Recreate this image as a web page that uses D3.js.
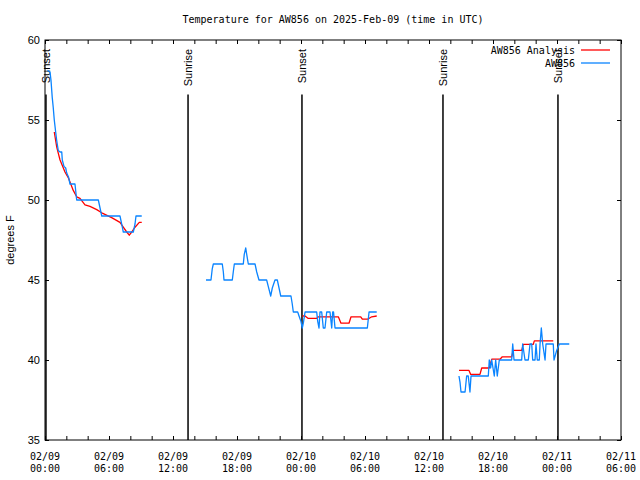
<!DOCTYPE html>
<html><head><meta charset="utf-8">
<script src="https://cdn.jsdelivr.net/npm/d3@7"></script>
<style>body{margin:0;background:#fff}svg{display:block}</style>
</head><body>
<script>
// ---- data (hours since 2025-02-09 00:00 UTC) ----
const obsHours = [
  [0.23,0.47,0.56,0.68,0.77,0.87,1.00,1.09,1.24,1.41,1.57,1.62,1.78,1.94,2.03,2.22,2.34,2.81,2.97,5.00,5.16,5.32,7.03,7.25,7.34,8.28,8.44,8.53,9.07],
  [15.09,15.56,15.68,15.78,16.62,16.72,16.78,17.56,17.65,17.75,18.59,18.68,18.82,18.91,19.06,19.69,19.85,20.06,20.78,20.93,21.16,21.31,21.56,21.78,21.94,22.10,23.06,23.18,23.28,23.69,23.84,24.00,24.12,24.22,24.38,25.47,25.57,25.69,25.78,25.94,26.09,26.25,26.41,26.72,26.88,26.97,27.05,27.19,30.22,30.38,31.10],
  [38.81,38.91,39.00,39.38,39.53,39.68,39.84,39.94,41.56,41.65,41.78,41.88,42.00,42.12,42.25,42.40,42.59,43.75,43.85,43.97,44.69,44.78,45.00,45.31,45.47,45.63,45.72,45.94,46.03,46.15,46.34,46.41,46.53,46.66,46.88,46.97,47.65,47.72,47.97,48.22,49.15]
];
const obsTemps = [
  [58.1,58.0,57.5,56.4,55.8,55.0,54.25,53.75,53.1,53.0,53.0,52.5,52.1,52.0,51.7,51.4,51.0,51.0,50.0,50.0,49.5,49.0,49.0,48.3,48.0,48.0,48.5,49.0,49.0],
  [45,45,45.7,46,46,45.5,45,45,45.5,46,46,46.6,47,46.6,46,46,45.5,45,45,44.6,44,44.5,45,45,44.5,44,44,43.5,43,43,42.7,42.4,42,42.3,43,43,42.4,42,43,43,42,42,43,43,42,43,43,42,42,43,43],
  [39,38.6,38,38,39,39,38,39,39,40,39.5,40,39.5,39,40,39,40,40,41,40,40,41,40,40,41,41,40,40,41,40,40,41,42,41,40,41,41,40,40.6,41,41]
];
const anaHours = [
  [0.87,1.10,1.41,1.72,1.87,2.18,2.65,2.97,3.28,3.75,4.22,4.85,5.32,6.25,7.03,7.34,7.66,7.90,8.13,8.44,8.84,9.07],
  [24.12,24.38,24.68,25.47,25.62,27.50,27.75,28.50,28.69,29.60,29.75,30.25,30.63,31.10],
  [38.81,39.75,39.91,40.78,40.94,41.65,41.88,42.66,42.87,43.75,43.90,44.69,44.84,45.78,45.87,47.65]
];
const anaTemps = [
  [54.25,53.3,52.5,52.0,51.75,51.4,50.6,50.2,50.1,49.7,49.6,49.4,49.2,48.9,48.6,48.3,48.0,47.8,48.0,48.3,48.6,48.6],
  [42.75,42.75,42.6,42.6,42.7,42.7,42.3,42.3,42.7,42.7,42.55,42.55,42.7,42.75],
  [39.35,39.35,39.1,39.1,39.5,39.5,40.05,40.05,40.2,40.2,40.6,40.6,40.98,40.98,41.2,41.2]
];
const sunHours = [0.09,13.41,24.09,37.31,48.09];
const sunLabels = ["Sunset","Sunrise","Sunset","Sunrise","Sunset"];
const xTickHours = [0,6,12,18,24,30,36,42,48,54];
const xTickDates = ["02/09","02/09","02/09","02/09","02/10","02/10","02/10","02/10","02/11","02/11"];
const xTickTimes = ["00:00","06:00","12:00","18:00","00:00","06:00","12:00","18:00","00:00","06:00"];
const yTicks = [35,40,45,50,55,60];
const seriesNames = ["AW856 Analysis","AW856"];
const seriesColors = ["#ff0000","#0a84ff"];
const title = "Temperature for AW856 on 2025-Feb-09 (time in UTC)";

// ---- layout ----
const W=640,H=480, L=45,R=621,T=40,B=440;
const svg=d3.select("body").append("svg").attr("width",W).attr("height",H);
const x=d3.scaleLinear().domain([0,54]).range([L,R]);
const y=d3.scaleLinear().domain([35,60]).range([B,T]);
const mono="'DejaVu Sans Mono', monospace";
const sans="'Liberation Sans', Arial, sans-serif";

// title
svg.append("text").attr("x",(L+R)/2).attr("y",23).attr("text-anchor","middle")
  .style("font-family",mono).style("font-size","10px").text(title);

// axes with inward ticks
const minorX=d3.range(0,55,2);
svg.append("g").attr("transform",`translate(0,${B})`)
  .call(d3.axisTop(x).tickValues(minorX).tickSize(4).tickFormat(""))
  .call(g=>g.select(".domain").remove());
svg.append("g").attr("transform",`translate(0,${T})`)
  .call(d3.axisBottom(x).tickValues(minorX).tickSize(4).tickFormat(""))
  .call(g=>g.select(".domain").remove());
svg.append("g").attr("transform",`translate(${L},0)`)
  .call(d3.axisRight(y).tickValues(yTicks).tickSize(4).tickFormat(""))
  .call(g=>g.select(".domain").remove());
svg.append("g").attr("transform",`translate(${R},0)`)
  .call(d3.axisLeft(y).tickValues(yTicks).tickSize(4).tickFormat(""))
  .call(g=>g.select(".domain").remove());
svg.selectAll(".tick line").attr("stroke","#000");

// x labels
const xl=svg.append("g").style("font-family",mono).style("font-size","10px").attr("text-anchor","middle");
xTickHours.forEach((h,i)=>{
  xl.append("text").attr("x",x(h)).attr("y",460).text(xTickDates[i]);
  xl.append("text").attr("x",x(h)).attr("y",472).text(xTickTimes[i]);
});
// y labels
const yl=svg.append("g").style("font-family",sans).style("font-size","11px").attr("text-anchor","end");
yTicks.forEach(v=>yl.append("text").attr("x",40).attr("y",y(v)+4).text(v));
svg.append("text").attr("transform",`translate(14,${(T+B)/2}) rotate(-90)`).attr("text-anchor","middle")
  .style("font-family",sans).style("font-size","11px").text("degrees F");

// sun lines
sunHours.forEach((h,i)=>{
  svg.append("line").attr("x1",x(h)).attr("x2",x(h)).attr("y1",y(35)).attr("y2",y(56.6))
    .attr("stroke","#000").attr("stroke-width",1.5);
  svg.append("text").attr("transform",`translate(${x(h)+4},${49}) rotate(-90)`).attr("text-anchor","end")
    .style("font-family",sans).style("font-size","11px").text(sunLabels[i]);
});

// series
const line=d3.line().x(d=>x(d[0])).y(d=>y(d[1]));
function draw(hours,temps,color){
  hours.forEach((hs,k)=>{
    svg.append("path").datum(hs.map((h,j)=>[h,temps[k][j]])).attr("d",line)
      .attr("fill","none").attr("stroke",color).attr("stroke-width",1.3).attr("stroke-linejoin","round");
  });
}
draw(anaHours,anaTemps,seriesColors[0]);
draw(obsHours,obsTemps,seriesColors[1]);

// frame
svg.append("rect").attr("x",L).attr("y",T).attr("width",R-L).attr("height",B-T)
  .attr("fill","none").attr("stroke","#000").attr("stroke-width",1);

// legend
const lg=svg.append("g").style("font-family",mono).style("font-size","10px");
seriesNames.forEach((n,i)=>{
  const yy=50+i*13;
  lg.append("text").attr("x",575).attr("y",yy+3.5).attr("text-anchor","end").text(n);
  lg.append("line").attr("x1",581).attr("x2",610).attr("y1",yy).attr("y2",yy)
    .attr("stroke",seriesColors[i]).attr("stroke-width",1.3);
});
</script>
</body></html>
